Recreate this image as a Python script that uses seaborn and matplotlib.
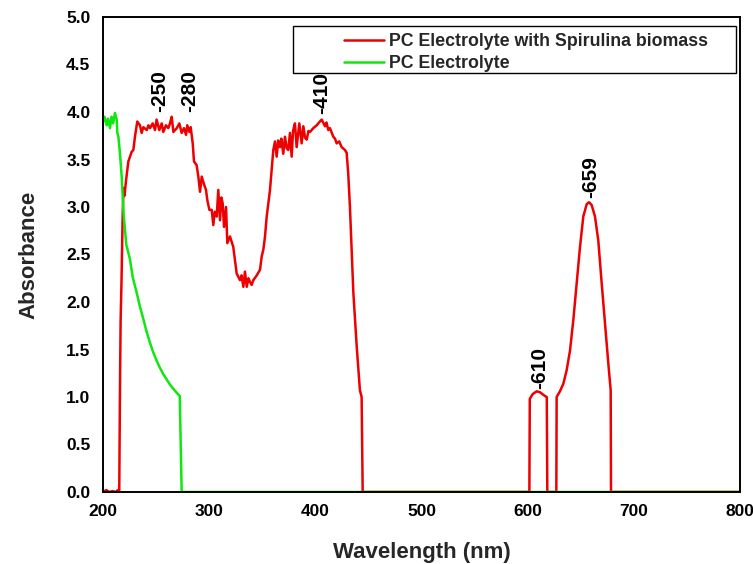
import matplotlib
matplotlib.use("Agg")
import matplotlib.pyplot as plt
import seaborn as sns
import pandas as pd
from matplotlib.patches import Rectangle
from matplotlib.ticker import MultipleLocator

# ---------------- data ----------------
red_nm = [200, 203, 206, 209, 212, 214, 215.3, 216.0, 216.6, 217.4, 218.5, 219.3, 220.3,
          221.7, 223.9, 227.0, 228.6, 230.1, 232.3, 234.8, 236.4, 238.0, 241.2, 242.8,
          244.3, 246.8, 249.0, 250.5, 253.0, 255.3, 256.8, 259.3, 261.5, 263.1, 264.7,
          266.3, 269.5, 271.9, 274.1, 276.3, 278.2, 279.4, 281.3, 282.6, 284.5, 285.7,
          288.2, 289.8, 291.4, 293.0, 295.1, 297.0, 298.3, 300.2, 302.4, 303.9, 305.3,
          307.1, 308.6, 310.2, 311.5, 312.7, 314.0, 315.9, 317.1, 319.6, 322.7, 324.3,
          325.9, 329.0, 330.5, 332.2, 333.7, 335.4, 337.0, 338.5, 340.0, 341.6, 344.8,
          347.9, 349.5, 351.0, 352.6, 354.2, 355.7, 357.3, 358.9, 360.4, 362.0, 363.6,
          365.0, 366.7, 368.0, 369.8, 371.4, 373.0, 374.5, 376.1, 377.7, 379.0, 380.8,
          382.4, 384.9, 387.1, 388.7, 390.3, 391.9, 393.5, 395.0, 398.1, 401.3, 403.5,
          406.0, 409.1, 410.5, 412.2, 413.8, 416.9, 418.5, 420.1, 422.5, 424.8, 427.9,
          429.5, 431.0, 432.6, 435.8, 439.0, 442.0, 443.6, 444.6, 600.0, 601.6, 602.0,
          604.7, 608.5, 611.6, 616.3, 618.0, 618.5, 627.0, 627.3, 630.4, 633.6, 636.7,
          639.9, 643.0, 646.2, 649.3, 652.4, 655.6, 657.8, 660.3, 663.4, 666.5, 669.7,
          672.8, 676.0, 678.2, 678.5, 800.0]
red_abs = [0.0, 0.02, 0.0, 0.01, 0.0, 0.02, 0.0, 1.10, 1.81, 2.20, 2.90, 3.20, 3.12,
           3.28, 3.48, 3.58, 3.60, 3.74, 3.90, 3.86, 3.78, 3.84, 3.81, 3.86,
           3.83, 3.88, 3.81, 3.92, 3.81, 3.88, 3.79, 3.86, 3.83, 3.88, 3.95,
           3.79, 3.83, 3.88, 3.78, 3.83, 3.76, 3.86, 3.79, 3.84, 3.67, 3.48,
           3.44, 3.32, 3.16, 3.32, 3.24, 3.18, 3.07, 2.97, 2.97, 2.81, 2.95,
           2.90, 3.18, 2.86, 3.10, 3.04, 2.79, 3.00, 2.62, 2.69, 2.58, 2.44,
           2.30, 2.23, 2.28, 2.16, 2.32, 2.16, 2.25, 2.21, 2.18, 2.23, 2.28,
           2.34, 2.48, 2.55, 2.69, 2.90, 3.04, 3.18, 3.39, 3.60, 3.69, 3.53,
           3.70, 3.63, 3.72, 3.56, 3.74, 3.62, 3.60, 3.78, 3.53, 3.80, 3.88,
           3.63, 3.88, 3.67, 3.85, 3.73, 3.71, 3.80, 3.79, 3.83, 3.86, 3.89,
           3.92, 3.85, 3.89, 3.81, 3.83, 3.74, 3.72, 3.67, 3.69, 3.63, 3.60,
           3.57, 3.35, 3.00, 2.10, 1.53, 1.07, 1.00, 0.0, 0.0, 0.0, 0.98,
           1.03, 1.06, 1.05, 1.01, 1.00, 0.0, 0.0, 1.00, 1.06, 1.14, 1.28,
           1.49, 1.81, 2.20, 2.58, 2.90, 3.03, 3.05, 3.02, 2.90, 2.65, 2.20,
           1.78, 1.35, 1.07, 0.0, 0.0]

green_nm = [200.0, 200.3, 201.5, 203.5, 204.8, 206.6, 208.0, 209.5, 211.3, 212.9, 213.5,
            214.5, 216.0, 217.6, 219.5, 222.0, 225.4, 228.0, 231.7, 234.6, 238.0, 241.0,
            244.3, 247.0, 250.6, 253.5, 256.8, 259.7, 263.1, 266.0, 269.0, 272.3, 274.1,
            800.0]
green_abs = [3.92, 3.90, 3.95, 3.86, 3.93, 3.83, 3.95, 3.88, 3.99, 3.92, 3.78,
             3.74, 3.56, 3.32, 2.91, 2.60, 2.45, 2.26, 2.10, 1.96, 1.82, 1.69,
             1.57, 1.48, 1.38, 1.31, 1.24, 1.19, 1.13, 1.09, 1.05, 1.01, 0.0,
             0.0]

peak_labels = ["-250", "-280", "-410", "-610", "-659"]
peak_x = [253.7, 281.9, 406.3, 611.6, 659.6]
peak_y = [4.0, 4.0, 3.98, 1.08, 3.09]

series_names = ["PC Electrolyte with Spirulina biomass", "PC Electrolyte"]
series_colors = ["#ee0000", "#11e611"]

x_ticks = [200, 300, 400, 500, 600, 700, 800]
y_ticks = [0.0, 0.5, 1.0, 1.5, 2.0, 2.5, 3.0, 3.5, 4.0, 4.5, 5.0]

# ---------------- figure ----------------
sns.set_style("white")
plt.rcParams["font.family"] = ["Liberation Sans", "DejaVu Sans"]

fig = plt.figure(figsize=(7.53, 5.64), dpi=100)
ax = fig.add_axes([103 / 753, 1 - 492 / 564, 637 / 753, 475 / 564])

df_red = pd.DataFrame({"nm": red_nm, "A": red_abs})
df_green = pd.DataFrame({"nm": green_nm, "A": green_abs})

sns.lineplot(data=df_red, x="nm", y="A", ax=ax, color=series_colors[0], lw=1.8,
             estimator=None, sort=False, label=series_names[0])
sns.lineplot(data=df_green, x="nm", y="A", ax=ax, color=series_colors[1], lw=1.8,
             estimator=None, sort=False, label=series_names[1])

ax.set_xlim(200, 800)
ax.set_ylim(0, 5.0)
ax.set_xticks(x_ticks)
ax.set_yticks(y_ticks)
ax.set_xticklabels([str(t) for t in x_ticks])
ax.set_yticklabels([f"{t:.1f}" for t in y_ticks])
ax.xaxis.set_minor_locator(MultipleLocator(50))
ax.yaxis.set_minor_locator(MultipleLocator(0.25))
ax.tick_params(axis="both", which="major", direction="out", length=5, width=1.2,
               labelsize=12.5, colors="black", pad=4)
ax.tick_params(axis="both", which="minor", direction="out", length=3, width=1.0)
ax.tick_params(top=False, right=False, which="both")
for lab in ax.get_xticklabels() + ax.get_yticklabels():
    lab.set_fontweight("bold")
for sp in ax.spines.values():
    sp.set_linewidth(1.4)
    sp.set_color("black")

ax.set_xlabel("Wavelength (nm)", fontsize=16, fontweight="bold", labelpad=16)
ax.set_ylabel("Absorbance", fontsize=16, fontweight="bold", labelpad=19)

for lab, x, y in zip(peak_labels, peak_x, peak_y):
    ax.text(x, y, lab, rotation=90, ha="center", va="bottom", fontsize=15,
            fontweight="bold", color="black")

# legend
leg = ax.legend(loc="upper left", bbox_to_anchor=(0.379, 0.966), frameon=False,
                fontsize=12.8, handlelength=2.2, handletextpad=0.3,
                labelspacing=0.3, borderpad=0, borderaxespad=0)
for t in leg.get_texts():
    t.set_fontweight("bold")
for h in leg.get_lines():
    h.set_linewidth(1.8)
ax.add_patch(Rectangle((0.298, 0.882), 0.696, 0.099, transform=ax.transAxes,
                       fill=False, edgecolor="black", lw=1.0, zorder=5))

fig.savefig("out.png", dpi=100)
